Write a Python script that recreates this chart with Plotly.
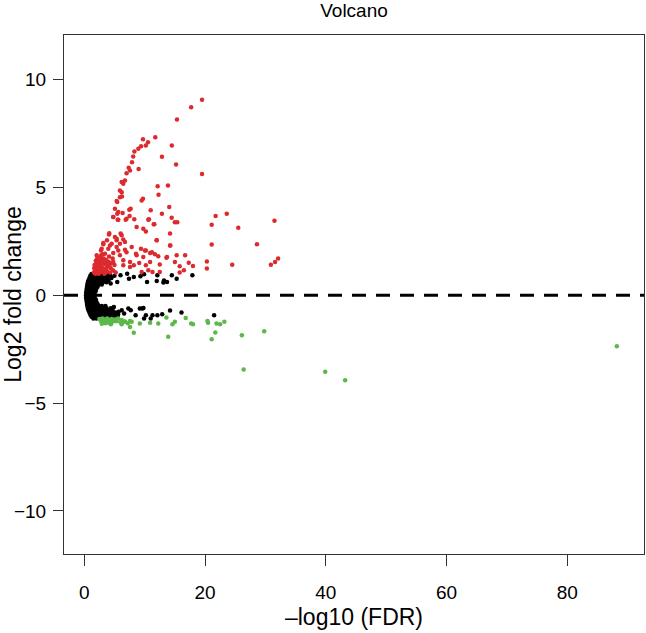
import plotly.graph_objects as go

# ---------------- data ----------------
red_x = [19.5, 17.7, 15.35, 11.76, 9.72, 10.55, 10.2, 9.4, 8.95, 8.3, 14.5, 12.86, 15.2, 19.5,
         8.1, 7.9, 7.35, 7.57, 9.0, 7.0, 6.74, 6.19, 6.46, 5.9, 6.24, 5.36, 12.15, 13.86, 12.3,
         9.72, 9.5, 5.08, 5.63, 7.68, 11.0, 14.07, 4.8, 6.35, 7.5, 5.53, 6.85, 8.28, 10.7, 12.86,
         14.47, 15.0, 15.4, 21.75, 23.6, 31.5, 21.1, 25.5, 8.67, 9.77, 11.6, 14.2, 4.09, 5.08,
         6.02, 11.98, 21.1, 28.6, 14.25, 3.76, 5.36, 6.74, 3.15, 4.25, 7.85, 9.39, 10.2, 2.76,
         5.63, 7.0, 8.56, 10.9, 11.7, 16.7, 13.7, 32.1, 31.6, 30.9, 24.5, 20.3, 20.3, 17.3, 18.0,
         15.0, 12.5, 15.8, 16.5, 12.5, 10.2, 9.1, 8.2, 10.6, 7.57, 9.5, 6.46, 11.3, 15.8,
         6.2, 5.9, 5.46, 4.8, 7.45, 5.46, 7.0, 5.63, 10.6, 11.5, 10.2, 4.14, 6.19, 5.36, 6.46,
         12.0, 3.15, 4.54, 5.9, 2.88, 3.97, 5.36, 6.74, 10.05, 11.2, 14.2, 3.43, 4.8, 5.9, 8.67,
         9.77, 12.25, 13.6, 15.3, 6.46, 7.57, 10.9, 4.8,
         1.6, 1.8, 1.7, 1.9, 2.0, 2.1, 2.2, 2.3, 2.4, 2.5, 2.6, 2.7, 2.8, 2.9, 3.0, 3.1, 3.2,
         3.3, 3.4, 3.5, 3.6, 3.8, 3.9, 4.0, 4.1, 4.3, 4.4, 4.5, 4.7, 4.8, 5.0, 5.2, 1.65, 1.95,
         2.15, 2.35, 2.55, 2.75, 2.95, 3.15, 3.35, 3.55, 3.75, 2.45, 2.65, 1.85, 2.05, 3.05,
         4.2, 3.65]
red_y = [9.07, 8.72, 8.15, 7.33, 7.24, 7.10, 6.94, 6.91, 6.79, 6.67, 6.94, 6.42, 6.06, 5.62,
         6.43, 6.17, 5.91, 5.79, 5.86, 5.66, 5.32, 5.25, 5.17, 4.86, 4.58, 4.37, 5.06, 5.09, 4.66,
         4.47, 4.40, 4.01, 3.86, 4.01, 3.94, 4.09, 3.63, 3.81, 3.67, 3.50, 3.50, 3.53, 3.53, 3.78,
         3.60, 3.39, 3.38, 3.67, 3.78, 3.46, 3.27, 3.13, 3.16, 3.09, 3.29, 2.86, 2.82, 2.70,
         2.86, 2.55, 2.35, 2.36, 2.31, 2.55, 2.55, 2.47, 2.36, 2.31, 2.24, 2.16, 2.08, 2.08,
         2.08, 2.00, 1.93, 1.96, 1.90, 1.85, 1.77, 1.70, 1.54, 1.42, 1.42, 1.57, 1.24, 1.51, 1.36,
         1.54, 1.43, 1.34, 1.16, 1.08, 1.39, 1.50, 1.39, 1.16, 1.31, 1.08, 1.39, 1.08, 1.05,
         4.78, 4.55, 4.32, 3.63, 3.97, 3.78, 3.55, 3.50, 3.50, 3.29, 2.96, 2.88, 2.78, 2.62, 2.58,
         2.55, 2.42, 2.39, 2.39, 2.16, 2.16, 2.24, 2.11, 2.08, 2.00, 2.31, 1.93, 1.96, 1.85, 1.85,
         1.77, 1.81, 1.74, 1.85, 1.62, 1.54, 1.54, 1.54,
         1.05, 1.20, 1.40, 1.60, 1.10, 1.30, 1.50, 1.75, 1.00, 1.20, 1.40, 1.60, 1.85, 1.10, 1.30,
         1.50, 1.70, 1.00, 1.20, 1.45, 1.65, 1.10, 1.35, 1.55, 1.80, 1.05, 1.25, 1.50, 1.70, 1.15,
         1.40, 1.05, 1.25, 1.45, 1.70, 1.25, 1.05, 1.30, 1.55, 1.20, 1.60, 1.05, 1.40, 1.55, 1.75,
         1.00, 1.85, 1.90, 1.40, 1.25]

black_x = [0.3, 0.5, 0.7, 0.9, 1.1, 1.3, 1.5, 1.7,
           0.3, 0.5, 0.7, 0.9, 1.1, 1.4, 1.7,
           0.3, 0.5, 0.7, 0.9, 1.1, 1.4, 1.7,
           0.35, 0.55, 0.8, 1.0, 1.3, 1.6, 1.9,
           0.35, 0.55, 0.8, 1.0, 1.3, 1.6, 1.9,
           0.4, 0.6, 0.85, 1.1, 1.4, 1.7, 2.0,
           0.4, 0.6, 0.85, 1.1, 1.4, 1.7, 2.0,
           0.45, 0.7, 0.95, 1.2, 1.5, 1.8, 2.2,
           0.45, 0.7, 0.95, 1.2, 1.5, 1.8, 2.2,
           0.5, 0.75, 1.0, 1.3, 1.6, 2.0, 2.4, 2.9,
           0.5, 0.75, 1.0, 1.3, 1.6, 2.0, 2.4, 2.9, 3.5,
           0.6, 0.85, 1.1, 1.4, 1.8, 2.2, 2.6, 3.1, 3.7,
           0.6, 0.85, 1.1, 1.4, 1.8, 2.2, 2.6, 3.1, 3.7, 4.4,
           0.7, 0.95, 1.25, 1.6, 2.0, 2.4, 2.9, 3.4, 4.0,
           0.7, 0.95, 1.25, 1.6, 2.0, 2.4, 2.9, 3.4, 4.0, 4.7,
           0.85, 1.1, 1.4, 1.8, 2.2, 2.7, 3.2, 3.8, 4.5,
           0.85, 1.1, 1.4, 1.8, 2.2, 2.7, 3.2, 3.8, 4.5, 5.2,
           1.0, 1.3, 1.7, 2.1, 2.6, 3.1, 3.7, 4.3, 5.0,
           1.0, 1.3, 1.7, 2.1, 2.6, 3.1, 3.7, 4.3, 5.0, 5.6,
           1.2, 1.6, 2.0, 2.5, 3.0, 3.5, 4.1,
           1.2, 1.6, 2.0, 2.5, 3.0, 3.6, 4.2, 4.9, 5.5,
           1.5, 2.0, 2.6, 3.2, 3.9,
           6.0, 7.1, 8.2, 9.3, 10.4, 7.4, 5.46, 4.37, 13.2, 13.7, 12.1, 9.9, 17.9, 12.0, 13.1,
           14.5, 15.3,
           4.9, 5.7, 6.6, 7.7, 8.5, 9.6, 10.2, 11.3, 12.1, 12.9, 9.9, 11.0, 14.2, 16.1, 21.5,
           9.2, 9.8, 7.3, 6.2]
black_y = [0.0, 0.0, 0.0, 0.0, 0.0, 0.0, 0.0, 0.0,
           0.1, 0.1, 0.1, 0.1, 0.1, 0.1, 0.1,
           -0.1, -0.1, -0.1, -0.1, -0.1, -0.1, -0.1,
           0.2, 0.2, 0.2, 0.2, 0.2, 0.2, 0.2,
           -0.2, -0.2, -0.2, -0.2, -0.2, -0.2, -0.2,
           0.3, 0.3, 0.3, 0.3, 0.3, 0.3, 0.3,
           -0.3, -0.3, -0.3, -0.3, -0.3, -0.3, -0.3,
           0.4, 0.4, 0.4, 0.4, 0.4, 0.4, 0.4,
           -0.4, -0.4, -0.4, -0.4, -0.4, -0.4, -0.4,
           0.5, 0.5, 0.5, 0.5, 0.5, 0.5, 0.5, 0.5,
           -0.5, -0.5, -0.5, -0.5, -0.5, -0.5, -0.5, -0.5, -0.5,
           0.6, 0.6, 0.6, 0.6, 0.6, 0.6, 0.6, 0.6, 0.6,
           -0.6, -0.6, -0.6, -0.6, -0.6, -0.6, -0.6, -0.6, -0.6, -0.6,
           0.7, 0.7, 0.7, 0.7, 0.7, 0.7, 0.7, 0.7, 0.7,
           -0.7, -0.7, -0.7, -0.7, -0.7, -0.7, -0.7, -0.7, -0.7, -0.7,
           0.8, 0.8, 0.8, 0.8, 0.8, 0.8, 0.8, 0.8, 0.8,
           -0.8, -0.8, -0.8, -0.8, -0.8, -0.8, -0.8, -0.8, -0.8, -0.8,
           0.9, 0.9, 0.9, 0.9, 0.9, 0.9, 0.9, 0.9, 0.9,
           -0.9, -0.9, -0.9, -0.9, -0.9, -0.9, -0.9, -0.9, -0.9, -0.9,
           0.98, 0.98, 0.98, 0.98, 0.98, 0.98, 0.98,
           -1.0, -1.0, -1.0, -1.0, -1.0, -1.0, -1.0, -1.0, -1.0,
           -1.08, -1.08, -1.08, -1.08, -1.08,
           0.93, 1.0, 0.85, 0.88, 0.62, 0.77, 0.62, 0.54, 0.69, 0.62, 0.93, 0.97, 0.93, 0.66, 0.59,
           0.93, 0.77,
           -0.54, -0.77, -0.85, -0.69, -0.93, -0.62, -0.93, -0.93, -0.93, -0.88, -1.08, -1.08,
           -0.71, -0.8, -0.93, -0.62, -0.59, -0.62, -0.69]

green_x = [3.15, 3.7, 4.25, 4.8, 5.36, 6.19, 6.74, 7.57, 7.85, 7.57, 8.2, 9.2, 10.9, 12.25,
           13.6, 15.0, 14.6, 13.9, 16.8, 17.7, 18.0, 20.4, 20.5, 21.9, 22.5, 23.2, 21.7, 21.1,
           26.1, 29.8, 26.4, 39.9, 43.2, 88.2,
           2.5, 2.8, 3.0, 3.2, 3.4, 3.6, 3.8, 4.0, 4.2, 4.5, 4.7, 5.0, 5.3, 5.6, 6.0, 6.2, 6.7,
           7.2, 2.9, 3.5, 4.4]
green_y = [-1.23, -1.13, -1.16, -1.19, -1.13, -1.34, -1.23, -1.19, -1.23, -1.47, -1.74, -1.31,
           -1.27, -1.31, -1.03, -1.23, -1.34, -1.93, -1.05, -1.31, -1.34, -1.19, -1.28, -1.31,
           -1.34, -1.23, -1.73, -2.04, -1.85, -1.67, -3.44, -3.55, -3.94, -2.36,
           -1.10, -1.20, -1.08, -1.25, -1.12, -1.20, -1.08, -1.28, -1.15, -1.10, -1.22, -1.12,
           -1.20, -1.08, -1.25, -1.15, -1.22, -1.30, -1.32, -1.30, -1.35]

x_ticks = [0, 20, 40, 60, 80]
y_ticks = [-10, -5, 0, 5, 10]

# ---------------- figure ----------------
FONT = "Liberation Sans, Arial, sans-serif"
fig = go.Figure()
fig.add_trace(go.Scatter(x=black_x, y=black_y, mode="markers",
                         marker=dict(color="#000000", size=4.5, line=dict(width=0))))
fig.add_trace(go.Scatter(x=red_x, y=red_y, mode="markers",
                         marker=dict(color="#DC2A2F", size=4.5, line=dict(width=0))))
fig.add_trace(go.Scatter(x=green_x, y=green_y, mode="markers",
                         marker=dict(color="#5DB84A", size=4.5, line=dict(width=0))))

fig.add_hline(y=0, line=dict(color="black", width=3, dash="14px,10px"))

fig.update_layout(
    width=646, height=633,
    margin=dict(l=64, r=2, t=35, b=79, autoexpand=False),
    paper_bgcolor="white", plot_bgcolor="white",
    showlegend=False,
    font=dict(family=FONT, size=19, color="black"),
    title=dict(text="Volcano", x=0.5, xref="paper", y=1 - 10 / 633, yref="container",
               xanchor="center", yanchor="middle", font=dict(size=19, family=FONT)),
)
fig.update_xaxes(range=[-3.36, 92.7], tickvals=x_ticks, ticks="outside", ticklen=11,
                 tickwidth=1, tickcolor="#333", showgrid=False, zeroline=False,
                 showline=True, linecolor="#333", linewidth=1, mirror=True,
                 ticklabelstandoff=10, automargin=False,
                 title=dict(text="\u2013log10 (FDR)", standoff=7))
fig.update_yaxes(range=[-12, 12.07], tickvals=y_ticks, ticks="outside", ticklen=10,
                 tickwidth=1, tickcolor="#333", showgrid=False, zeroline=False,
                 showline=True, linecolor="#333", linewidth=1, mirror=True,
                 ticklabelstandoff=3, automargin=False,
                 title=dict(text="Log2 fold change", standoff=7))

fig.write_html(
    "out.html",
    config={"displayModeBar": False},
    post_script="document.body.style.margin='0';document.body.style.overflow='hidden';",
)
